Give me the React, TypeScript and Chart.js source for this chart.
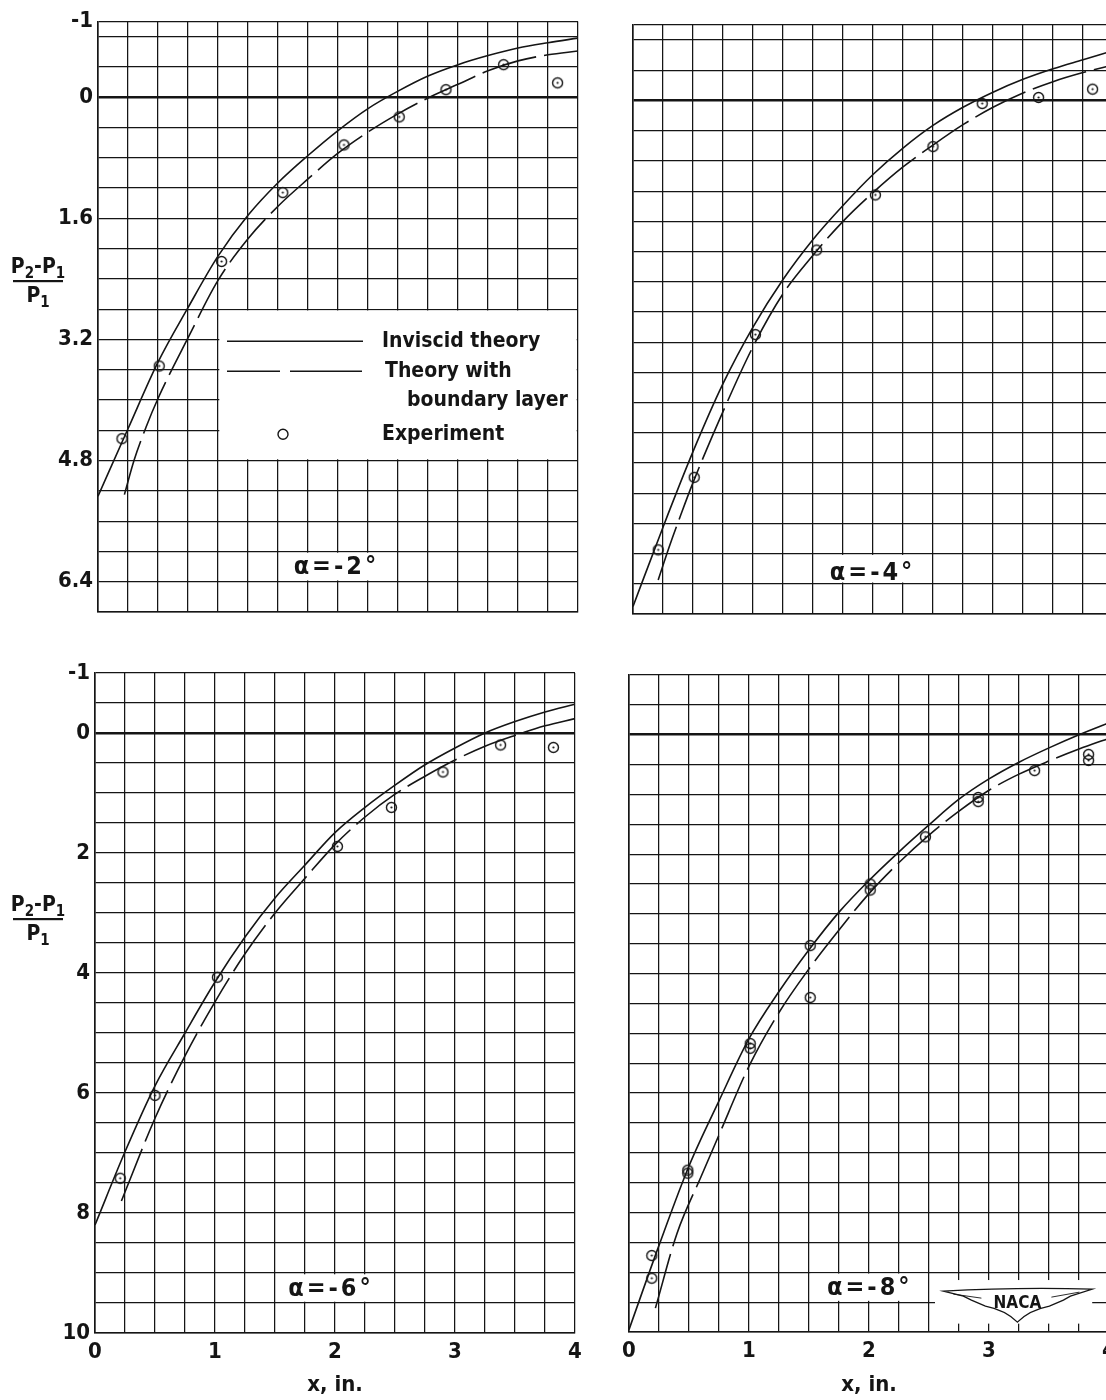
import React, { useEffect, useRef } from "react";
import { Chart, registerables } from "chart.js";

Chart.register(...registerables);

const FONT = "'DejaVu Sans Condensed', 'DejaVu Sans', sans-serif";
const INK = "#151515";

// ---------- tick values / labels ----------
const xGrid = [0, 0.25, 0.5, 0.75, 1, 1.25, 1.5, 1.75, 2, 2.25, 2.5, 2.75, 3, 3.25, 3.5, 3.75, 4];
const xLabeled = [0, 1, 2, 3, 4];
const yGridTop = [-1, -0.8, -0.4, 0, 0.4, 0.8, 1.2, 1.6, 2.0, 2.4, 2.8, 3.2, 3.6, 4.0, 4.4, 4.8, 5.2, 5.6, 6.0, 6.4, 6.8];
const yLabeledTop = [-1, 0, 1.6, 3.2, 4.8, 6.4];
const yGridBottom = [-1, -0.5, 0, 0.5, 1, 1.5, 2, 2.5, 3, 3.5, 4, 4.5, 5, 5.5, 6, 6.5, 7, 7.5, 8, 8.5, 9, 9.5, 10];
const yLabeledBottom = [-1, 0, 2, 4, 6, 8, 10];

// ---------- series ----------
const theoryX = [0, 0.25, 0.5, 0.75, 1, 1.25, 1.5, 1.75, 2, 2.25, 2.5, 2.75, 3, 3.25, 3.5, 3.75, 4];

// alpha = -2 deg
const inviscidA2 = [5.27, 4.38, 3.5, 2.78, 2.1, 1.56, 1.13, 0.77, 0.44, 0.15, -0.08, -0.28, -0.43, -0.55, -0.65, -0.72, -0.78];
const boundaryXA2 = [0.22, 0.3, 0.4, 0.5, 0.75, 1.0, 1.25, 1.5, 1.75, 2.0, 2.25, 2.5, 2.75, 3.0, 3.25, 3.5, 3.75, 4.0];
const boundaryYA2 = [5.25, 4.8, 4.36, 3.98, 3.18, 2.42, 1.87, 1.44, 1.08, 0.74, 0.46, 0.22, 0.01, -0.17, -0.35, -0.48, -0.56, -0.61];
const expXA2 = [0.2, 0.51, 1.03, 1.54, 2.05, 2.51, 2.9, 3.38, 3.83];
const expYA2 = [4.51, 3.55, 2.17, 1.26, 0.63, 0.26, -0.1, -0.43, -0.19];

// alpha = -4 deg
const inviscidA4 = [6.7, 5.65, 4.65, 3.75, 3.0, 2.37, 1.84, 1.39, 0.98, 0.63, 0.33, 0.09, -0.11, -0.28, -0.42, -0.54, -0.66];
const boundaryXA4 = [0.21, 0.3, 0.4, 0.5, 0.75, 1.0, 1.25, 1.5, 1.75, 2.0, 2.25, 2.5, 2.75, 3.0, 3.25, 3.5, 3.75, 4.0];
const boundaryYA4 = [6.35, 5.92, 5.48, 5.06, 4.12, 3.26, 2.56, 2.05, 1.6, 1.22, 0.88, 0.59, 0.32, 0.09, -0.1, -0.25, -0.37, -0.47];
const expXA4 = [0.21, 0.51, 1.02, 1.53, 2.02, 2.5, 2.91, 3.38, 3.83];
const expYA4 = [5.95, 4.99, 3.1, 1.98, 1.25, 0.61, 0.04, -0.04, -0.15];

// alpha = -6 deg
const inviscidA6 = [8.2, 6.98, 5.88, 5.0, 4.15, 3.4, 2.75, 2.2, 1.66, 1.24, 0.87, 0.53, 0.25, 0.0, -0.19, -0.35, -0.48];
const boundaryXA6 = [0.22, 0.5, 0.75, 1.0, 1.25, 1.5, 1.75, 2.0, 2.25, 2.5, 2.75, 3.0, 3.25, 3.5, 3.75, 4.0];
const boundaryYA6 = [7.8, 6.42, 5.38, 4.48, 3.68, 3.0, 2.42, 1.86, 1.4, 1.02, 0.72, 0.45, 0.22, 0.04, -0.12, -0.24];
const expXA6 = [0.21, 0.5, 1.02, 2.02, 2.47, 2.9, 3.38, 3.82];
const expYA6 = [7.42, 6.04, 4.07, 1.89, 1.24, 0.65, 0.2, 0.24];

// alpha = -8 deg
const inviscidA8 = [9.96, 8.55, 7.22, 6.13, 5.09, 4.3, 3.6, 2.97, 2.44, 1.96, 1.51, 1.08, 0.74, 0.46, 0.22, 0.0, -0.2];
const boundaryXA8 = [0.22, 0.4, 0.6, 0.75, 1.0, 1.25, 1.5, 1.75, 2.0, 2.25, 2.5, 2.75, 3.0, 3.25, 3.5, 3.75, 4.0];
const boundaryYA8 = [9.6, 8.35, 7.4, 6.7, 5.55, 4.65, 3.92, 3.27, 2.66, 2.14, 1.68, 1.28, 0.93, 0.66, 0.44, 0.24, 0.06];
const expXA8 = [0.19, 0.19, 0.49, 0.49, 1.01, 1.01, 1.51, 1.51, 2.01, 2.01, 2.47, 2.91, 2.91, 3.38, 3.83, 3.83];
const expYA8 = [8.72, 9.1, 7.29, 7.34, 5.17, 5.25, 3.53, 4.4, 2.5, 2.6, 1.71, 1.05, 1.12, 0.6, 0.33, 0.43];

type Spec = {
  key: string;
  left: number; top: number; w: number; h: number;
  pad: { left: number; top: number; right: number; bottom: number };
  yW: number; xH: number;
  yMax: number; yGrid: number[]; yLabeled: number[];
  showY: boolean; showX: boolean;
  invX: number[]; invY: number[];
  blX: number[]; blY: number[];
  exX: number[]; exY: number[];
  alpha: string; alphaPos: [number, number]; alphaBox: [number, number, number, number];
  legend: boolean; naca: boolean; fracBarY: number | null;
};

const specs: Spec[] = [
  {
    key: "a2", left: 0, top: 0, w: 600, h: 640,
    pad: { left: 0, top: 21.5, right: 22, bottom: 0 }, yW: 98, xH: 28,
    yMax: 6.8, yGrid: yGridTop, yLabeled: yLabeledTop, showY: true, showX: false,
    invX: theoryX, invY: inviscidA2, blX: boundaryXA2, blY: boundaryYA2, exX: expXA2, exY: expYA2,
    alpha: "α=-2°", alphaPos: [1.97, 6.21], alphaBox: [1.5, 2.5, 6.0, 6.4],
    legend: true, naca: false, fracBarY: 281,
  },
  {
    key: "a4", left: 600, top: 0, w: 530, h: 640,
    pad: { left: 0, top: 25, right: 17, bottom: 0 }, yW: 33, xH: 26,
    yMax: 6.8, yGrid: yGridTop, yLabeled: yLabeledTop, showY: false, showX: false,
    invX: theoryX, invY: inviscidA4, blX: boundaryXA4, blY: boundaryYA4, exX: expXA4, exY: expYA4,
    alpha: "α=-4°", alphaPos: [1.98, 6.26], alphaBox: [1.5, 2.5, 6.0, 6.4],
    legend: false, naca: false, fracBarY: null,
  },
  {
    key: "a6", left: 0, top: 640, w: 600, h: 760,
    pad: { left: 0, top: 33, right: 25, bottom: 0 }, yW: 95, xH: 67,
    yMax: 10, yGrid: yGridBottom, yLabeled: yLabeledBottom, showY: true, showX: true,
    invX: theoryX, invY: inviscidA6, blX: boundaryXA6, blY: boundaryYA6, exX: expXA6, exY: expYA6,
    alpha: "α=-6°", alphaPos: [1.95, 9.27], alphaBox: [1.5, 2.5, 9.0, 9.5],
    legend: false, naca: false, fracBarY: 279,
  },
  {
    key: "a8", left: 600, top: 640, w: 530, h: 760,
    pad: { left: 0, top: 35, right: 21, bottom: 0 }, yW: 29, xH: 68,
    yMax: 10, yGrid: yGridBottom, yLabeled: yLabeledBottom, showY: false, showX: true,
    invX: theoryX, invY: inviscidA8, blX: boundaryXA8, blY: boundaryYA8, exX: expXA8, exY: expYA8,
    alpha: "α=-8°", alphaPos: [1.99, 9.28], alphaBox: [1.5, 2.5, 9.0, 9.5],
    legend: false, naca: true, fracBarY: null,
  },
];

function makeMarker(): HTMLCanvasElement {
  const c = document.createElement("canvas");
  c.width = 15;
  c.height = 15;
  const g = c.getContext("2d")!;
  g.strokeStyle = INK;
  g.lineWidth = 1.4;
  g.beginPath();
  g.arc(7.5, 7.5, 5, 0, Math.PI * 2);
  g.stroke();
  g.fillStyle = INK;
  g.beginPath();
  g.arc(7.5, 7.5, 1.1, 0, Math.PI * 2);
  g.fill();
  return c;
}

const near = (arr: number[], v: number) => arr.some((a) => Math.abs(a - v) < 1e-6);

function drawFraction(ctx: CanvasRenderingContext2D, cx: number, barY: number) {
  ctx.save();
  ctx.fillStyle = INK;
  ctx.textBaseline = "alphabetic";
  ctx.textAlign = "left";
  const big = `bold 21px ${FONT}`;
  const small = `bold 15px ${FONT}`;
  const num: [string, string, number][] = [
    ["P", big, 0], ["2", small, 5], ["-", big, 0], ["P", big, 0], ["1", small, 5],
  ];
  let total = 0;
  for (const [t, f] of num) { ctx.font = f; total += ctx.measureText(t).width; }
  let x = cx - total / 2;
  for (const [t, f, dy] of num) {
    ctx.font = f;
    ctx.fillText(t, x, barY - 8 + dy);
    x += ctx.measureText(t).width;
  }
  ctx.fillRect(cx - 25, barY - 1, 50, 2.2);
  const den: [string, string, number][] = [["P", big, 0], ["1", small, 5]];
  total = 0;
  for (const [t, f] of den) { ctx.font = f; total += ctx.measureText(t).width; }
  x = cx - total / 2;
  for (const [t, f, dy] of den) {
    ctx.font = f;
    ctx.fillText(t, x, barY + 21 + dy);
    x += ctx.measureText(t).width;
  }
  ctx.restore();
}

function decorPlugin(s: Spec) {
  return {
    id: "decor_" + s.key,
    beforeDatasetsDraw(chart: any) {
      const { ctx } = chart;
      const xs = chart.scales.x;
      const ys = chart.scales.y;
      const erase = (b: number[], inset: number) => {
        const x1 = xs.getPixelForValue(b[0]);
        const x2 = xs.getPixelForValue(b[1]);
        const y1 = ys.getPixelForValue(b[2]);
        const y2 = ys.getPixelForValue(b[3]);
        ctx.fillRect(x1 + inset, y1 + inset, x2 - x1 - 2 * inset, y2 - y1 - 2 * inset);
      };
      ctx.save();
      ctx.fillStyle = "#ffffff";
      erase(s.alphaBox, 1.3);
      if (s.legend) erase([1.0, 4.0, 2.8, 4.8], 1.3);
      if (s.naca) erase([2.55, 3.86, 9.13, 9.86], 0);
      ctx.restore();
    },
    afterDatasetsDraw(chart: any) {
      const { ctx } = chart;
      const xs = chart.scales.x;
      const ys = chart.scales.y;
      ctx.save();
      ctx.fillStyle = INK;
      ctx.strokeStyle = INK;
      ctx.font = `bold 25px ${FONT}`;
      (ctx as any).letterSpacing = "3px";
      ctx.textAlign = "center";
      ctx.textBaseline = "middle";
      ctx.fillText(s.alpha, xs.getPixelForValue(s.alphaPos[0]) + 2, ys.getPixelForValue(s.alphaPos[1]));
      (ctx as any).letterSpacing = "0px";

      if (s.legend) {
        const L = xs.getPixelForValue(1.0);
        const T = ys.getPixelForValue(2.8);
        ctx.lineWidth = 1.6;
        ctx.beginPath();
        ctx.moveTo(L + 9, T + 32);
        ctx.lineTo(L + 145, T + 32);
        ctx.moveTo(L + 9, T + 62);
        ctx.lineTo(L + 62, T + 62);
        ctx.moveTo(L + 72, T + 62);
        ctx.lineTo(L + 144, T + 62);
        ctx.stroke();
        ctx.lineWidth = 1.4;
        ctx.beginPath();
        ctx.arc(L + 65, T + 125, 5, 0, Math.PI * 2);
        ctx.stroke();
        ctx.font = `bold 21px ${FONT}`;
        ctx.textAlign = "left";
        ctx.textBaseline = "middle";
        ctx.fillText("Inviscid theory", L + 164, T + 32);
        ctx.fillText("Theory with", L + 167, T + 62);
        ctx.fillText("boundary layer", L + 189, T + 91);
        ctx.fillText("Experiment", L + 164, T + 125);
      }

      if (s.naca) {
        const cx = xs.getPixelForValue(3.22);
        const cy = ys.getPixelForValue(9.5);
        ctx.lineWidth = 1.3;
        ctx.beginPath();
        ctx.moveTo(cx - 72, cy - 11);
        ctx.quadraticCurveTo(cx, cy - 15, cx + 77, cy - 13);
        ctx.lineTo(cx + 55, cy - 6);
        ctx.lineTo(cx + 48, cy - 2);
        ctx.lineTo(cx + 34, cy + 4);
        ctx.quadraticCurveTo(cx + 14, cy + 8, cx + 2, cy + 20);
        ctx.quadraticCurveTo(cx - 10, cy + 8, cx - 30, cy + 4);
        ctx.lineTo(cx - 44, cy - 2);
        ctx.lineTo(cx - 52, cy - 6);
        ctx.closePath();
        ctx.stroke();
        ctx.lineWidth = 0.9;
        ctx.beginPath();
        ctx.moveTo(cx - 62, cy - 8);
        ctx.lineTo(cx - 34, cy - 4);
        ctx.moveTo(cx + 64, cy - 10);
        ctx.lineTo(cx + 36, cy - 5);
        ctx.stroke();
        ctx.font = `bold 17px ${FONT}`;
        ctx.textAlign = "center";
        ctx.textBaseline = "middle";
        ctx.fillText("NACA", cx + 2, cy + 1);
      }
      ctx.restore();
    },
    afterDraw(chart: any) {
      if (s.fracBarY !== null) drawFraction(chart.ctx, 38, s.fracBarY);
    },
  };
}

function buildConfig(s: Spec, marker: HTMLCanvasElement): any {
  const gridWidth = (c: any) => (c.tick && Math.abs(c.tick.value) < 1e-9 ? 2.6 : 1.25);
  return {
    type: "line",
    data: {
      datasets: [
        {
          label: "Inviscid theory",
          data: s.invX.map((x, i) => ({ x, y: s.invY[i] })),
          borderColor: INK,
          borderWidth: 1.6,
          pointRadius: 0,
          fill: false,
          cubicInterpolationMode: "monotone",
        },
        {
          label: "Theory with boundary layer",
          data: s.blX.map((x, i) => ({ x, y: s.blY[i] })),
          borderColor: INK,
          borderWidth: 1.6,
          borderDash: [56, 8],
          pointRadius: 0,
          fill: false,
          cubicInterpolationMode: "monotone",
        },
        {
          label: "Experiment",
          data: s.exX.map((x, i) => ({ x, y: s.exY[i] })),
          showLine: false,
          pointStyle: marker,
          pointRadius: 6,
        },
      ],
    },
    options: {
      responsive: false,
      animation: false,
      devicePixelRatio: 1,
      events: [],
      layout: { padding: s.pad },
      plugins: { legend: { display: false }, tooltip: { enabled: false } },
      scales: {
        x: {
          type: "linear",
          min: 0,
          max: 4,
          afterBuildTicks: (sc: any) => {
            sc.ticks = xGrid.map((v) => ({ value: v }));
          },
          afterFit: (sc: any) => {
            sc.height = s.xH;
          },
          ticks: {
            display: s.showX,
            autoSkip: false,
            maxRotation: 0,
            padding: 8,
            color: INK,
            font: { family: FONT, size: 22, weight: "bold", lineHeight: 1 },
            callback: (v: any) => (near(xLabeled, Number(v)) ? String(v) : ""),
          },
          grid: { color: INK, lineWidth: 1.25, drawTicks: false },
          border: { display: true, color: INK, width: 1.6 },
          title: {
            display: s.showX,
            text: "x, in.",
            color: INK,
            font: { family: FONT, size: 22, weight: "bold", lineHeight: 1 },
            padding: { top: 0, bottom: 4 },
          },
        },
        y: {
          type: "linear",
          reverse: true,
          min: -1,
          max: s.yMax,
          afterBuildTicks: (sc: any) => {
            sc.ticks = s.yGrid.map((v) => ({ value: v }));
          },
          afterFit: (sc: any) => {
            sc.width = s.yW;
          },
          ticks: {
            display: s.showY,
            autoSkip: false,
            padding: 5,
            color: INK,
            font: { family: FONT, size: 22, weight: "bold", lineHeight: 1 },
            callback: (v: any) => (near(s.yLabeled, Number(v)) ? String(v) : ""),
          },
          grid: { color: INK, lineWidth: gridWidth, drawTicks: false },
          border: { display: true, color: INK, width: 1.6 },
        },
      },
    },
    plugins: [decorPlugin(s)],
  };
}

function Panel({ spec }: { spec: Spec }) {
  const ref = useRef<HTMLCanvasElement | null>(null);
  useEffect(() => {
    if (!ref.current) return;
    const chart = new Chart(ref.current, buildConfig(spec, makeMarker()));
    return () => chart.destroy();
  }, [spec]);
  return (
    <div style={{ position: "absolute", left: spec.left, top: spec.top, width: spec.w, height: spec.h }}>
      <canvas ref={ref} width={spec.w} height={spec.h} style={{ display: "block", width: spec.w, height: spec.h }} />
    </div>
  );
}

export default function App() {
  return (
    <div
      style={{
        position: "absolute",
        left: 0,
        top: 0,
        width: 1106,
        height: 1400,
        overflow: "hidden",
        background: "#ffffff",
      }}
    >
      {specs.map((s) => (
        <Panel key={s.key} spec={s} />
      ))}
    </div>
  );
}
